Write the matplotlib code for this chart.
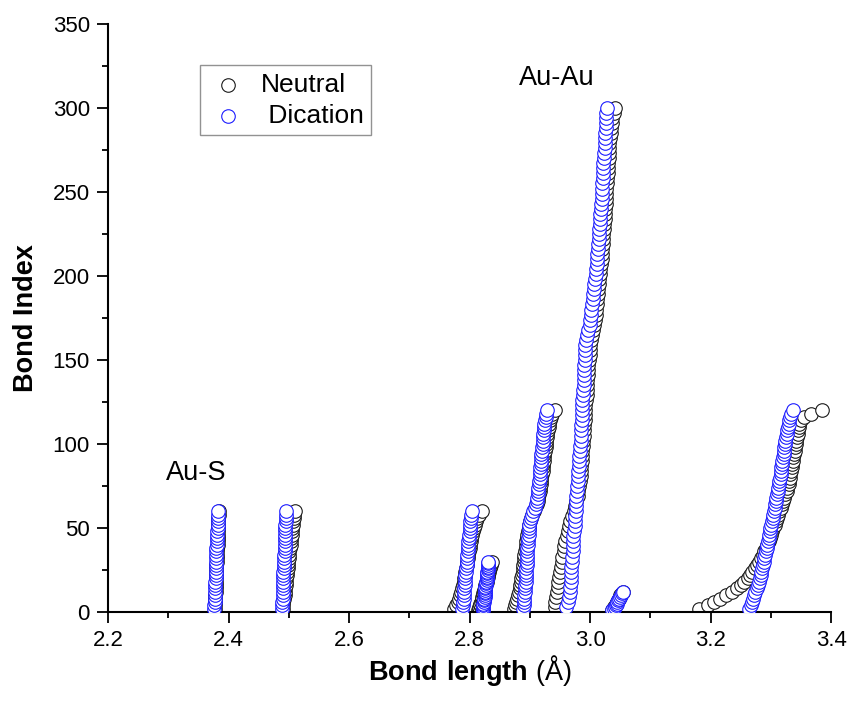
import numpy as np
import matplotlib.pyplot as plt
from matplotlib.ticker import MultipleLocator

plt.rcParams['font.family'] = ['Liberation Sans', 'DejaVu Sans']
plt.rcParams['mathtext.fontset'] = 'custom'
plt.rcParams['mathtext.bf'] = 'Liberation Sans:bold'
plt.rcParams['mathtext.rm'] = 'Liberation Sans'

# bond index of the plotted points in each group (every n-th bond)
idx_aus1 = np.arange(2, 61, 2)
idx_aus2 = np.arange(2, 61, 2)
idx_g3 = np.arange(2, 61, 2)
idx_g4 = np.arange(1, 31, 1)
idx_g5 = np.arange(2, 121, 2)
idx_auau = np.arange(3, 301, 3)
idx_g7 = np.arange(1, 13, 1)
idx_g8 = np.arange(2, 121, 2)

# bond lengths (Angstrom), neutral
neu_aus1 = [2.377, 2.377, 2.378, 2.378, 2.378, 2.379, 2.379, 2.379, 2.379, 2.380,
            2.380, 2.380, 2.380, 2.380, 2.381, 2.381, 2.381, 2.381, 2.381, 2.382,
            2.382, 2.382, 2.382, 2.382, 2.383, 2.383, 2.383, 2.383, 2.384, 2.384]
neu_aus2 = [2.490, 2.491, 2.491, 2.492, 2.493, 2.493, 2.494, 2.495, 2.495, 2.496,
            2.497, 2.497, 2.498, 2.499, 2.499, 2.500, 2.501, 2.501, 2.502, 2.503,
            2.503, 2.504, 2.505, 2.505, 2.506, 2.507, 2.507, 2.508, 2.509, 2.511]
neu_g3 = [2.774, 2.777, 2.780, 2.782, 2.784, 2.786, 2.788, 2.789, 2.790, 2.791,
          2.792, 2.793, 2.794, 2.795, 2.796, 2.797, 2.798, 2.799, 2.800, 2.801,
          2.802, 2.803, 2.804, 2.806, 2.807, 2.809, 2.811, 2.813, 2.816, 2.821]
neu_g4 = [2.814, 2.815, 2.816, 2.817, 2.818, 2.819, 2.820, 2.821, 2.821, 2.822,
          2.823, 2.824, 2.824, 2.825, 2.826, 2.826, 2.827, 2.828, 2.828, 2.829,
          2.830, 2.830, 2.831, 2.832, 2.832, 2.833, 2.834, 2.835, 2.836, 2.837]
neu_g5 = [2.873, 2.875, 2.877, 2.879, 2.880, 2.882, 2.883, 2.884, 2.885, 2.886,
          2.887, 2.888, 2.888, 2.889, 2.890, 2.891, 2.891, 2.892, 2.893, 2.894,
          2.894, 2.895, 2.896, 2.897, 2.898, 2.899, 2.900, 2.902, 2.904, 2.906,
          2.909, 2.911, 2.913, 2.914, 2.915, 2.916, 2.917, 2.918, 2.918, 2.919,
          2.920, 2.921, 2.921, 2.922, 2.923, 2.924, 2.924, 2.925, 2.926, 2.927,
          2.927, 2.928, 2.929, 2.930, 2.931, 2.932, 2.933, 2.935, 2.937, 2.941]
neu_auau = [2.941, 2.942, 2.944, 2.945, 2.946, 2.947, 2.948, 2.950, 2.951, 2.953,
            2.954, 2.956, 2.957, 2.959, 2.961, 2.963, 2.965, 2.967, 2.970, 2.973,
            2.975, 2.977, 2.979, 2.980, 2.982, 2.983, 2.984, 2.985, 2.985, 2.986,
            2.987, 2.987, 2.988, 2.988, 2.989, 2.989, 2.990, 2.991, 2.991, 2.992,
            2.992, 2.993, 2.994, 2.994, 2.995, 2.995, 2.996, 2.997, 2.997, 2.998,
            2.999, 2.999, 3.000, 3.001, 3.003, 3.005, 3.006, 3.008, 3.009, 3.010,
            3.011, 3.012, 3.013, 3.013, 3.014, 3.015, 3.016, 3.017, 3.018, 3.019,
            3.019, 3.020, 3.021, 3.021, 3.022, 3.023, 3.023, 3.024, 3.025, 3.025,
            3.026, 3.026, 3.027, 3.027, 3.028, 3.028, 3.029, 3.030, 3.030, 3.031,
            3.031, 3.032, 3.032, 3.033, 3.034, 3.035, 3.036, 3.037, 3.039, 3.041]
neu_g7 = [3.036, 3.038, 3.040, 3.042, 3.043, 3.045, 3.046, 3.047, 3.049, 3.050,
          3.052, 3.054]
neu_g8 = [3.180, 3.195, 3.205, 3.215, 3.225, 3.235, 3.243, 3.250, 3.256, 3.261,
          3.265, 3.269, 3.273, 3.277, 3.280, 3.283, 3.286, 3.288, 3.291, 3.293,
          3.296, 3.298, 3.300, 3.302, 3.304, 3.306, 3.308, 3.310, 3.312, 3.314,
          3.316, 3.318, 3.320, 3.322, 3.324, 3.326, 3.327, 3.329, 3.330, 3.331,
          3.332, 3.333, 3.334, 3.335, 3.336, 3.337, 3.338, 3.339, 3.340, 3.341,
          3.342, 3.343, 3.344, 3.345, 3.346, 3.347, 3.349, 3.355, 3.366, 3.385]

# bond lengths (Angstrom), dication
dic_aus1 = [2.376, 2.376, 2.377, 2.377, 2.377, 2.378, 2.378, 2.378, 2.378, 2.379,
            2.379, 2.379, 2.379, 2.379, 2.380, 2.380, 2.380, 2.380, 2.380, 2.381,
            2.381, 2.381, 2.381, 2.381, 2.382, 2.382, 2.382, 2.382, 2.383, 2.383]
dic_aus2 = [2.489, 2.489, 2.489, 2.490, 2.490, 2.490, 2.490, 2.491, 2.491, 2.491,
            2.491, 2.491, 2.492, 2.492, 2.492, 2.492, 2.492, 2.493, 2.493, 2.493,
            2.493, 2.493, 2.494, 2.494, 2.494, 2.494, 2.495, 2.495, 2.495, 2.496]
dic_g3 = [2.788, 2.789, 2.789, 2.790, 2.790, 2.791, 2.791, 2.792, 2.792, 2.793,
          2.793, 2.794, 2.794, 2.795, 2.795, 2.796, 2.796, 2.797, 2.797, 2.798,
          2.798, 2.799, 2.799, 2.800, 2.800, 2.801, 2.801, 2.802, 2.803, 2.804]
dic_g4 = [2.822, 2.822, 2.823, 2.823, 2.823, 2.824, 2.824, 2.824, 2.825, 2.825,
          2.825, 2.826, 2.826, 2.826, 2.826, 2.827, 2.827, 2.827, 2.828, 2.828,
          2.828, 2.829, 2.829, 2.829, 2.830, 2.830, 2.830, 2.831, 2.831, 2.831]
dic_g5 = [2.889, 2.890, 2.890, 2.891, 2.891, 2.892, 2.892, 2.892, 2.893, 2.893,
          2.893, 2.894, 2.894, 2.895, 2.895, 2.895, 2.896, 2.896, 2.896, 2.897,
          2.897, 2.897, 2.898, 2.898, 2.899, 2.899, 2.900, 2.901, 2.903, 2.905,
          2.908, 2.910, 2.911, 2.912, 2.913, 2.914, 2.914, 2.915, 2.915, 2.916,
          2.916, 2.917, 2.917, 2.918, 2.918, 2.919, 2.919, 2.920, 2.920, 2.921,
          2.921, 2.922, 2.922, 2.923, 2.923, 2.924, 2.925, 2.926, 2.927, 2.928]
dic_auau = [2.960, 2.963, 2.965, 2.966, 2.967, 2.968, 2.968, 2.969, 2.969, 2.970,
            2.970, 2.971, 2.971, 2.972, 2.972, 2.973, 2.974, 2.974, 2.975, 2.976,
            2.976, 2.977, 2.977, 2.978, 2.978, 2.979, 2.980, 2.980, 2.981, 2.982,
            2.982, 2.983, 2.983, 2.984, 2.984, 2.985, 2.985, 2.986, 2.986, 2.987,
            2.987, 2.987, 2.988, 2.988, 2.989, 2.989, 2.989, 2.990, 2.990, 2.991,
            2.991, 2.992, 2.992, 2.993, 2.995, 2.997, 2.999, 3.000, 3.001, 3.002,
            3.003, 3.004, 3.005, 3.006, 3.007, 3.008, 3.009, 3.010, 3.011, 3.011,
            3.012, 3.013, 3.013, 3.014, 3.015, 3.015, 3.016, 3.016, 3.017, 3.018,
            3.018, 3.019, 3.019, 3.020, 3.020, 3.021, 3.021, 3.022, 3.022, 3.023,
            3.023, 3.024, 3.024, 3.025, 3.025, 3.026, 3.026, 3.027, 3.027, 3.028]
dic_g7 = [3.037, 3.039, 3.041, 3.042, 3.044, 3.045, 3.046, 3.048, 3.049, 3.051,
          3.053, 3.055]
dic_g8 = [3.263, 3.266, 3.268, 3.270, 3.272, 3.274, 3.276, 3.278, 3.280, 3.281,
          3.283, 3.284, 3.285, 3.287, 3.288, 3.289, 3.290, 3.292, 3.293, 3.294,
          3.295, 3.296, 3.297, 3.298, 3.299, 3.300, 3.302, 3.303, 3.304, 3.305,
          3.306, 3.307, 3.308, 3.309, 3.310, 3.311, 3.312, 3.313, 3.314, 3.315,
          3.316, 3.317, 3.317, 3.318, 3.319, 3.320, 3.321, 3.322, 3.322, 3.323,
          3.324, 3.325, 3.326, 3.327, 3.328, 3.329, 3.330, 3.331, 3.333, 3.336]

idx_all = np.concatenate([idx_aus1, idx_aus2, idx_g3, idx_g4, idx_g5, idx_auau, idx_g7, idx_g8])
neutral = np.concatenate([neu_aus1, neu_aus2, neu_g3, neu_g4, neu_g5, neu_auau, neu_g7, neu_g8])
dication = np.concatenate([dic_aus1, dic_aus2, dic_g3, dic_g4, dic_g5, dic_auau, dic_g7, dic_g8])

fig = plt.figure(figsize=(8.5, 7.01), dpi=100)
ax = fig.add_axes([0.127, 0.127, 0.851, 0.839])

ax.scatter(neutral, idx_all, s=95, facecolors='white', edgecolors='#1a1a1a',
           linewidths=0.8, label='Neutral', zorder=2)
ax.scatter(dication, idx_all, s=95, facecolors='white', edgecolors='#1c1cff',
           linewidths=0.8, label=' Dication', zorder=3)

ax.set_xlim(2.2, 3.4)
ax.set_ylim(0, 350)
ax.xaxis.set_major_locator(MultipleLocator(0.2))
ax.xaxis.set_minor_locator(MultipleLocator(0.1))
ax.yaxis.set_major_locator(MultipleLocator(50))
ax.yaxis.set_minor_locator(MultipleLocator(25))
ax.set_xticklabels([f'{v:.1f}' for v in ax.get_xticks()])

for side in ['top', 'right']:
    ax.spines[side].set_visible(False)
for side in ['left', 'bottom']:
    ax.spines[side].set_linewidth(1.5)

ax.tick_params(which='major', direction='out', length=8, width=1.3, labelsize=16, pad=5)
ax.tick_params(which='minor', direction='out', length=4.5, width=1.3)

ax.set_xlabel(r'$\mathbf{Bond\ length}$ (Å)', fontsize=19.5, va='center')
ax.xaxis.set_label_coords(0.5, -0.1)
ax.set_ylabel('Bond Index', fontsize=19.5, fontweight='bold', labelpad=10)

ax.text(2.346, 83, 'Au-S', fontsize=19.5, ha='center', va='center')
ax.text(2.945, 318, 'Au-Au', fontsize=19.5, ha='center', va='center')

leg = ax.legend(loc='upper left', bbox_to_anchor=(0.127, 0.93), borderaxespad=0,
                fontsize=19, fancybox=False, frameon=True, handletextpad=0.5,
                borderpad=0.3, labelspacing=0.25, handlelength=1.5)
leg.get_frame().set_edgecolor('#777777')
leg.get_frame().set_linewidth(1.0)

fig.savefig('out.png', dpi=100)
